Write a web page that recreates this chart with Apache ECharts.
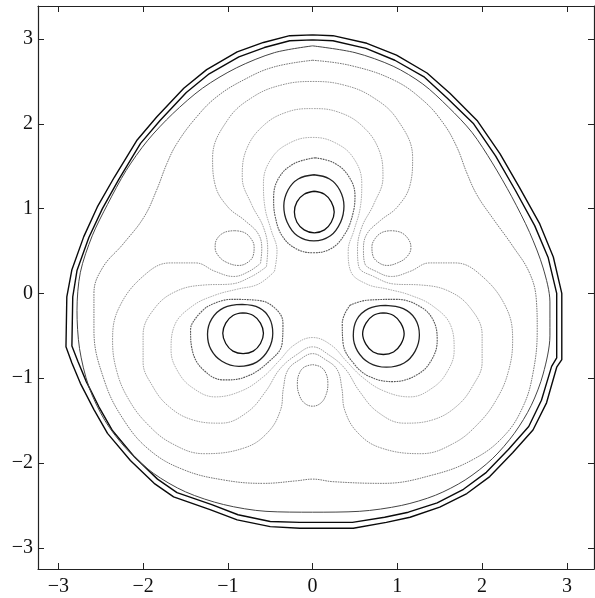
<!DOCTYPE html>
<html>
<head>
<meta charset="utf-8">
<script src="https://cdn.jsdelivr.net/npm/echarts@6/dist/echarts.min.js"></script>
<style>
html,body{margin:0;padding:0;background:#fff}
#chart{width:595px;height:598px}
</style>
</head>
<body>
<div id="chart"></div>
<script>
// Tick values shared by both axes
const tickValues = [-3, -2, -1, 0, 1, 2, 3];

// Contour levels, listed from the outermost level inward (x, y pairs)
const level1 = [[0,3.05],[0.24,3.04],[0.64,2.95],[0.99,2.81],[1.35,2.60],[1.62,2.36],[1.94,2.04],[2.21,1.65],[2.44,1.25],[2.68,0.82],[2.84,0.43],[2.94,0.0],[2.94,-0.78],[2.88,-0.87],[2.76,-1.29],[2.60,-1.61],[2.36,-1.88],[2.09,-2.16],[1.82,-2.36],[1.50,-2.52],[1.15,-2.64],[0.87,-2.70],[0.48,-2.77],[-0.15,-2.77],[-0.5,-2.75],[-0.89,-2.67],[-1.21,-2.55],[-1.64,-2.40],[-1.87,-2.24],[-2.15,-1.97],[-2.42,-1.65],[-2.58,-1.37],[-2.74,-1.06],[-2.84,-0.82],[-2.91,-0.63],[-2.90,-0.04],[-2.84,0.28],[-2.70,0.67],[-2.54,1.02],[-2.34,1.37],[-2.07,1.81],[-1.84,2.08],[-1.52,2.42],[-1.25,2.64],[-0.89,2.85],[-0.58,2.96],[-0.27,3.04],[0,3.05]];

const level2 = [[0,2.99],[0.24,2.98],[0.63,2.89],[0.97,2.75],[1.32,2.55],[1.58,2.31],[1.90,2.00],[2.16,1.62],[2.39,1.22],[2.62,0.80],[2.78,0.42],[2.88,0.0],[2.88,-0.76],[2.82,-0.86],[2.70,-1.26],[2.55,-1.57],[2.31,-1.84],[2.05,-2.11],[1.78,-2.31],[1.47,-2.47],[1.13,-2.58],[0.85,-2.64],[0.47,-2.70],[-0.15,-2.70],[-0.5,-2.69],[-0.88,-2.61],[-1.19,-2.49],[-1.60,-2.35],[-1.83,-2.19],[-2.10,-1.93],[-2.36,-1.62],[-2.52,-1.34],[-2.67,-1.04],[-2.77,-0.80],[-2.84,-0.62],[-2.83,-0.04],[-2.78,0.27],[-2.64,0.66],[-2.48,1.00],[-2.29,1.34],[-2.03,1.77],[-1.80,2.04],[-1.49,2.37],[-1.22,2.59],[-0.87,2.79],[-0.57,2.90],[-0.27,2.98],[0,2.99]];

const level3 = [[0,2.92],[0.5,2.84],[0.95,2.68],[1.30,2.47],[1.60,2.20],[1.88,1.90],[2.12,1.54],[2.35,1.14],[2.56,0.72],[2.72,0.30],[2.80,-0.10],[2.80,-0.50],[2.72,-0.95],[2.58,-1.32],[2.38,-1.65],[2.12,-1.95],[1.80,-2.20],[1.45,-2.38],[1.05,-2.50],[0.55,-2.57],[0,-2.58],[-0.55,-2.57],[-1.05,-2.49],[-1.50,-2.34],[-1.88,-2.12],[-2.20,-1.83],[-2.45,-1.50],[-2.64,-1.10],[-2.75,-0.65],[-2.78,-0.20],[-2.74,0.25],[-2.60,0.68],[-2.42,1.05],[-2.20,1.45],[-1.95,1.80],[-1.65,2.12],[-1.30,2.42],[-0.90,2.66],[-0.45,2.84],[0,2.92]];

const level4 = [[0,2.75],[0.44,2.69],[0.95,2.52],[1.30,2.28],[1.54,2.01],[1.70,1.73],[1.82,1.42],[1.94,1.16],[2.13,0.88],[2.36,0.56],[2.56,0.24],[2.64,-0.08],[2.65,-0.43],[2.60,-0.94],[2.48,-1.34],[2.25,-1.69],[1.89,-1.96],[1.42,-2.14],[0.83,-2.24],[0.24,-2.22],[0,-2.19],[-0.19,-2.21],[-0.58,-2.24],[-1.05,-2.20],[-1.52,-2.08],[-1.92,-1.85],[-2.23,-1.49],[-2.46,-1.02],[-2.58,-0.43],[-2.58,0.0],[-2.48,0.30],[-2.23,0.59],[-1.99,0.90],[-1.84,1.22],[-1.72,1.53],[-1.60,1.77],[-1.37,2.08],[-1.13,2.32],[-0.81,2.52],[-0.46,2.67],[0,2.75]];

const level4IslandLeft = [[-0.92,0.74],[-1.04,0.72],[-1.13,0.64],[-1.15,0.54],[-1.10,0.43],[-1.00,0.36],[-0.87,0.33],[-0.76,0.37],[-0.70,0.45],[-0.69,0.55],[-0.73,0.65],[-0.81,0.72],[-0.92,0.74]];
const level4IslandRight = [[0.92,0.74],[1.04,0.72],[1.13,0.64],[1.16,0.54],[1.11,0.43],[1.00,0.36],[0.88,0.33],[0.77,0.37],[0.71,0.45],[0.70,0.55],[0.74,0.65],[0.82,0.72],[0.92,0.74]];
const level4IslandBottom = [[0.0,-0.84],[0.10,-0.87],[0.16,-0.95],[0.18,-1.07],[0.16,-1.19],[0.10,-1.29],[0.0,-1.33],[-0.10,-1.29],[-0.16,-1.19],[-0.18,-1.07],[-0.16,-0.95],[-0.10,-0.87],[0.0,-0.84]];

const level5 = [[-0.615,0.355],[-0.60,0.52],[-0.64,0.70],[-0.80,0.86],[-1.00,1.02],[-1.15,1.28],[-1.18,1.60],[-1.00,2.05],[-0.70,2.32],[-0.36,2.46],[0,2.50],[0.36,2.46],[0.70,2.32],[1.00,2.05],[1.18,1.60],[1.15,1.28],[1.00,1.02],[0.80,0.86],[0.64,0.70],[0.60,0.52],[0.615,0.355],
  [0.75,0.26],[0.93,0.20],[1.15,0.26],[1.38,0.36],[1.68,0.36],[1.98,0.22],[2.28,-0.16],[2.36,-0.55],[2.31,-0.92],[2.17,-1.25],[1.95,-1.54],[1.66,-1.77],[1.28,-1.89],[0.80,-1.82],[0.53,-1.64],[0.38,-1.38],[0.345,-1.12],[0.29,-0.90],[0.15,-0.78],[0,-0.71],
  [-0.15,-0.78],[-0.29,-0.90],[-0.345,-1.12],[-0.38,-1.38],[-0.53,-1.64],[-0.80,-1.82],[-1.28,-1.89],[-1.66,-1.77],[-1.95,-1.54],[-2.17,-1.25],[-2.31,-0.92],[-2.36,-0.55],[-2.28,-0.16],[-1.98,0.22],[-1.68,0.36],[-1.38,0.36],[-1.15,0.26],[-0.93,0.20],[-0.75,0.26],[-0.615,0.355]];

const level6 = [[-0.545,0.315],[-0.53,0.52],[-0.58,0.78],[-0.72,1.05],[-0.83,1.37],[-0.78,1.70],[-0.58,1.98],[-0.30,2.14],[0,2.18],[0.30,2.14],[0.58,1.98],[0.78,1.70],[0.83,1.37],[0.72,1.05],[0.58,0.78],[0.53,0.52],[0.545,0.315],
  [0.72,0.20],[0.97,0.11],[1.27,0.10],[1.60,0.03],[1.86,-0.17],[2.00,-0.49],[2.00,-0.81],[1.89,-1.09],[1.70,-1.33],[1.42,-1.49],[1.08,-1.53],[0.77,-1.40],[0.55,-1.15],[0.385,-0.89],[0.185,-0.72],[0,-0.63],
  [-0.185,-0.72],[-0.385,-0.89],[-0.55,-1.15],[-0.77,-1.40],[-1.08,-1.53],[-1.42,-1.49],[-1.70,-1.33],[-1.89,-1.09],[-2.00,-0.81],[-2.00,-0.49],[-1.86,-0.17],[-1.60,0.03],[-1.27,0.10],[-0.97,0.11],[-0.72,0.20],[-0.545,0.315]];

const level7 = [[-0.45,0.26],[-0.42,0.50],[-0.49,0.75],[-0.56,1.00],[-0.58,1.30],[-0.48,1.60],[-0.26,1.78],[0,1.84],[0.26,1.78],[0.48,1.60],[0.58,1.30],[0.56,1.00],[0.49,0.75],[0.42,0.50],[0.45,0.26],
  [0.64,0.11],[0.89,0.05],[1.15,-0.02],[1.42,-0.15],[1.63,-0.38],[1.67,-0.67],[1.59,-0.92],[1.42,-1.11],[1.15,-1.22],[0.84,-1.15],[0.59,-0.99],[0.40,-0.80],[0.22,-0.61],[0,-0.52],
  [-0.22,-0.61],[-0.40,-0.80],[-0.59,-0.99],[-0.84,-1.15],[-1.15,-1.22],[-1.42,-1.11],[-1.59,-0.92],[-1.67,-0.67],[-1.63,-0.38],[-1.42,-0.15],[-1.15,-0.02],[-0.89,0.05],[-0.64,0.11],[-0.45,0.26]];

const level8Top = [[0.03,1.60],[0.25,1.54],[0.42,1.39],[0.50,1.15],[0.47,0.92],[0.38,0.70],[0.22,0.53],[0.00,0.48],[-0.20,0.53],[-0.36,0.68],[-0.44,0.90],[-0.46,1.12],[-0.40,1.36],[-0.22,1.53],[0.03,1.60]];
const level8Left = [[-1.25,-0.16],[-0.97,-0.07],[-0.66,-0.08],[-0.46,-0.16],[-0.35,-0.35],[-0.36,-0.59],[-0.50,-0.79],[-0.78,-0.98],[-1.05,-1.02],[-1.29,-0.90],[-1.42,-0.67],[-1.44,-0.43],[-1.37,-0.28],[-1.25,-0.16]];
const level8Right = [[0.44,-0.14],[0.64,-0.08],[0.99,-0.07],[1.26,-0.15],[1.42,-0.31],[1.47,-0.55],[1.40,-0.79],[1.23,-0.96],[0.95,-1.04],[0.67,-0.98],[0.48,-0.82],[0.36,-0.59],[0.35,-0.35],[0.44,-0.14]];

const level9Top = [[0.015,1.40],[0.20,1.35],[0.32,1.22],[0.37,1.03],[0.33,0.84],[0.21,0.68],[0.015,0.62],[-0.18,0.68],[-0.30,0.84],[-0.34,1.03],[-0.29,1.22],[-0.17,1.35],[0.015,1.40]];
const level9Left = [[-0.83,-0.13],[-0.63,-0.17],[-0.51,-0.29],[-0.47,-0.47],[-0.52,-0.66],[-0.66,-0.81],[-0.87,-0.86],[-1.07,-0.80],[-1.20,-0.66],[-1.24,-0.48],[-1.19,-0.30],[-1.05,-0.17],[-0.83,-0.13]];
const level9Right = [[0.86,-0.14],[1.07,-0.18],[1.21,-0.30],[1.26,-0.49],[1.21,-0.68],[1.08,-0.82],[0.87,-0.87],[0.67,-0.82],[0.53,-0.68],[0.48,-0.50],[0.52,-0.31],[0.66,-0.18],[0.86,-0.14]];

const level10Top = [[0.02,1.205],[0.14,1.17],[0.22,1.08],[0.255,0.96],[0.22,0.84],[0.14,0.75],[0.02,0.715],[-0.10,0.75],[-0.185,0.84],[-0.215,0.96],[-0.185,1.08],[-0.10,1.17],[0.02,1.205]];
const level10Left = [[-0.82,-0.23],[-0.70,-0.26],[-0.615,-0.35],[-0.58,-0.47],[-0.615,-0.59],[-0.70,-0.68],[-0.82,-0.71],[-0.94,-0.68],[-1.025,-0.59],[-1.06,-0.47],[-1.025,-0.35],[-0.94,-0.26],[-0.82,-0.23]];
const level10Right = [[0.835,-0.23],[0.955,-0.26],[1.04,-0.35],[1.08,-0.475],[1.04,-0.60],[0.955,-0.69],[0.835,-0.72],[0.715,-0.69],[0.63,-0.60],[0.59,-0.475],[0.63,-0.35],[0.715,-0.26],[0.835,-0.23]];

// Drawing style per contour level (grey shades of the level colour map)
const levelStyles = {
  1: {color: '#0a0a0a', width: 1.4, smooth: false, dash: 'solid'},
  2: {color: '#0a0a0a', width: 1.4, smooth: false, dash: 'solid'},
  3: {color: '#444444', width: 1.0, smooth: 0.3, dash: 'solid'},
  4: {color: '#777777', width: 1.0, smooth: 0.4, dash: [1.6, 0.9]},
  5: {color: '#939393', width: 1.0, smooth: 0.4, dash: [1.6, 0.9]},
  6: {color: '#a3a3a3', width: 1.0, smooth: 0.4, dash: [1.6, 0.9]},
  7: {color: '#b0b0b0', width: 1.0, smooth: 0.4, dash: [1.6, 0.9]},
  8: {color: '#585858', width: 1.1, smooth: 0.4, dash: [1.8, 0.8]},
  9: {color: '#222222', width: 1.3, smooth: 0.4, dash: 'solid'},
  10: {color: '#111111', width: 1.3, smooth: 0.4, dash: 'solid'}
};

const contourLines = [
  [1, level1], [2, level2], [3, level3],
  [4, level4], [4, level4IslandLeft], [4, level4IslandRight], [4, level4IslandBottom],
  [5, level5], [6, level6], [7, level7],
  [8, level8Top], [8, level8Left], [8, level8Right],
  [9, level9Top], [9, level9Left], [9, level9Right],
  [10, level10Top], [10, level10Left], [10, level10Right]
];

const fmt = v => (v < 0 ? '\u2212' + Math.abs(v) : String(v));
const labelFont = {fontFamily: 'Liberation Serif', fontSize: 20, color: '#111'};

function axis(pos, showLabel, min, max, margin) {
  return {
    type: 'value', position: pos, min: min, max: max,
    splitLine: {show: false},
    axisLine: {show: true, onZero: false, lineStyle: {color: '#222', width: 1.2}},
    axisTick: {show: true, inside: true, length: 6, customValues: tickValues, lineStyle: {color: '#222', width: 1}},
    axisLabel: Object.assign({show: showLabel, customValues: tickValues, formatter: fmt, margin: margin}, labelFont)
  };
}

const chart = echarts.init(document.getElementById('chart'), null, {renderer: 'canvas'});
chart.setOption({
  animation: false,
  backgroundColor: '#fff',
  grid: {left: 38, right: 1, top: 6, bottom: 29},
  xAxis: [axis('bottom', true, -3.24, 3.32, 8), axis('top', false, -3.24, 3.32, 8)],
  yAxis: [axis('left', true, -3.25, 3.39, 5), axis('right', false, -3.25, 3.39, 5)],
  series: contourLines.map(([lv, pts]) => ({
    type: 'line',
    data: pts,
    xAxisIndex: 0, yAxisIndex: 0,
    showSymbol: false,
    silent: true,
    smooth: levelStyles[lv].smooth,
    lineStyle: {color: levelStyles[lv].color, width: levelStyles[lv].width, type: levelStyles[lv].dash}
  }))
});
</script>
</body>
</html>
